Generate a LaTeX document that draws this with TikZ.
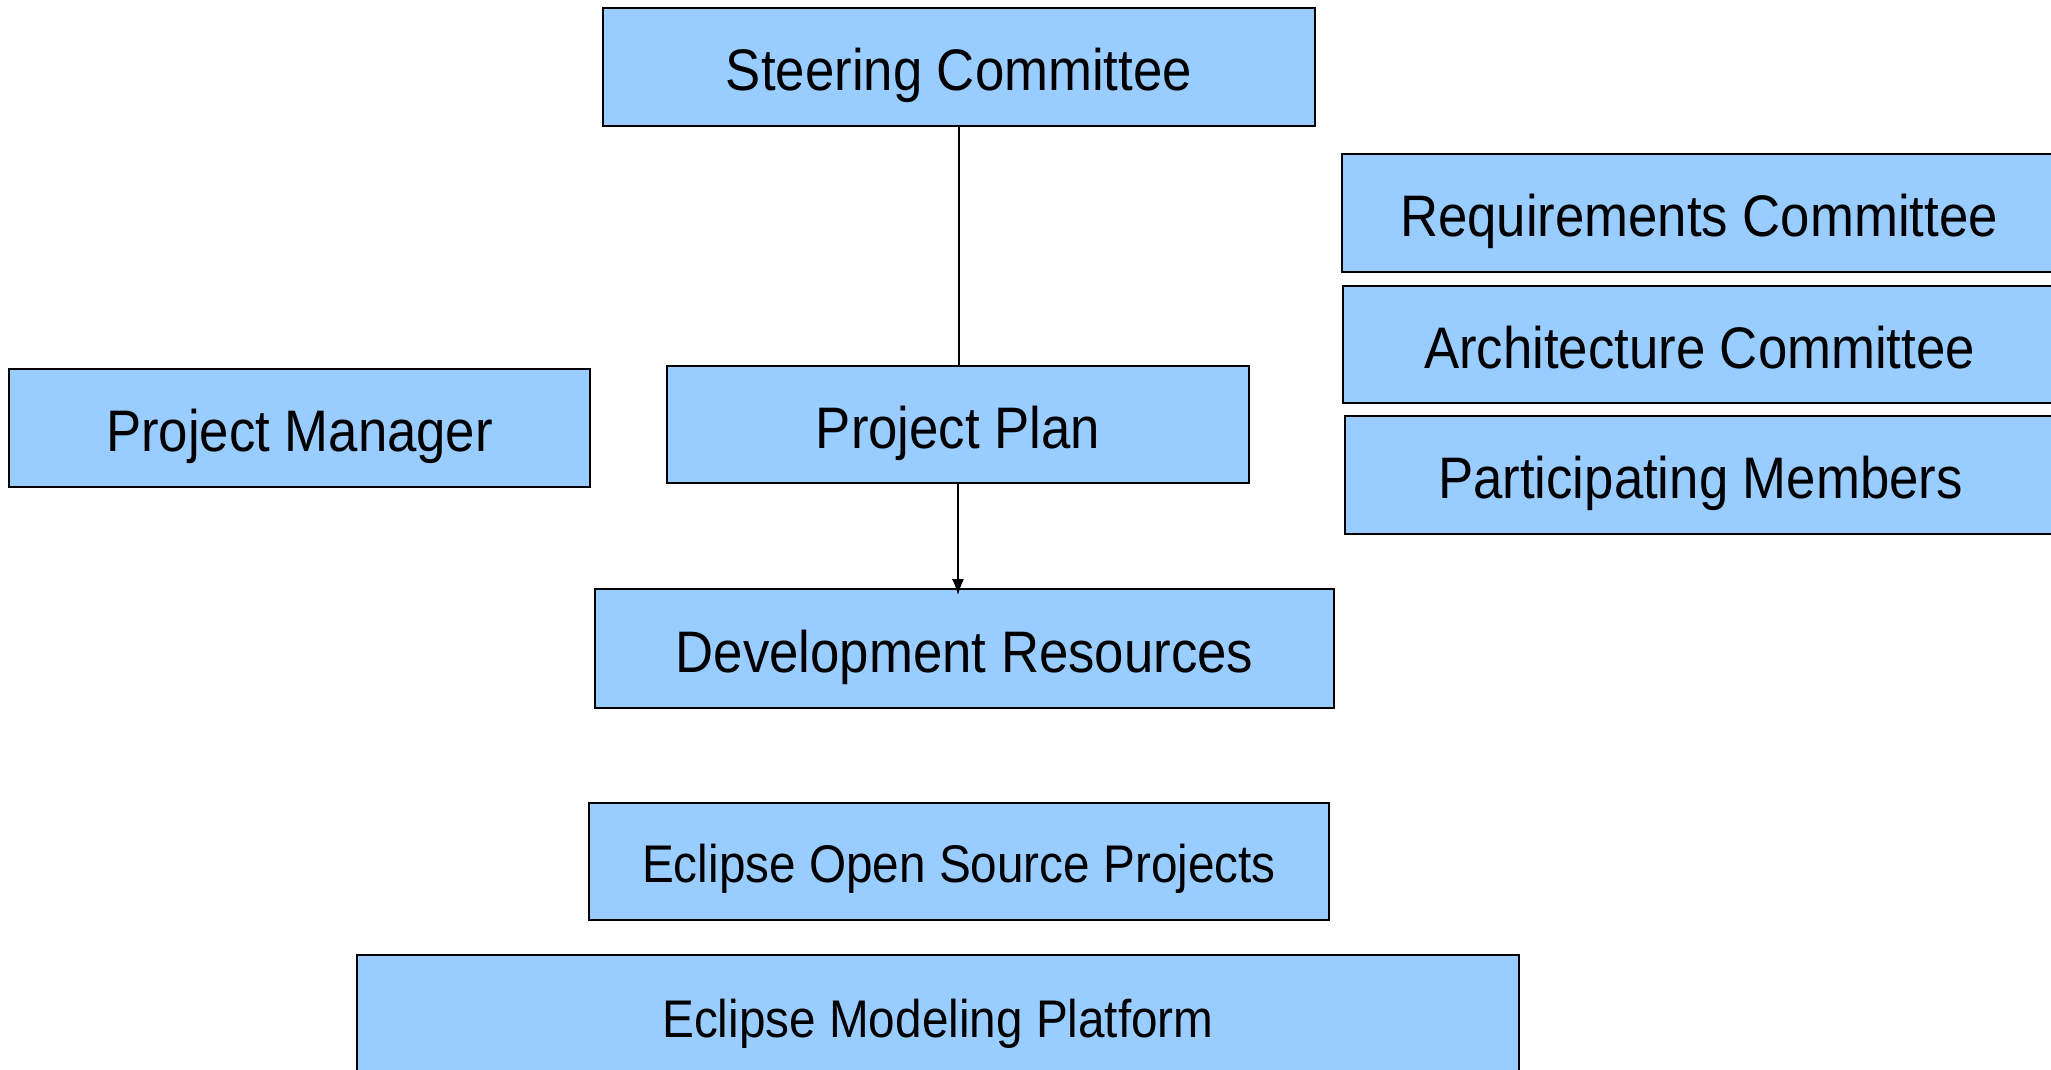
\documentclass[tikz,border=0pt]{standalone}
\usepackage{fontspec}
\setmainfont{Liberation Sans}[FakeStretch=0.9]
\usetikzlibrary{arrows.meta}
\definecolor{boxblue}{HTML}{99CCFF}
\tikzset{
  box/.style={draw=black, line width=1pt, fill=boxblue, inner sep=0pt, anchor=center},
  big/.style={font=\fontsize{29.3}{35}\selectfont, text height=23.5pt, text depth=0pt},
  small/.style={font=\fontsize{26.5}{32}\selectfont, text height=21.3pt, text depth=0pt},
  conn/.style={draw=black, line width=0.6pt},
}
\begin{document}
\begin{tikzpicture}[x=0.5pt, y=-0.5pt]
\useasboundingbox (0,0) rectangle (2051,1070);
\clip (0,0) rectangle (2051,1070);
\node[box, big, minimum width=356pt, minimum height=59pt] (steer) at (959,67) {Steering Committee};
\node[box, big, minimum width=357pt, minimum height=59pt] (req) at (1699,213) {Requirements Committee};
\node[box, big, minimum width=356.5pt, minimum height=58.5pt] (arch) at (1699.5,344.5) {Architecture Committee};
\node[box, big, minimum width=355.5pt, minimum height=59pt] (part) at (1700.5,475) {Participating Members};
\node[box, big, minimum width=290.5pt, minimum height=59pt] (pm) at (299.5,428) {Project Manager};
\node[box, big, minimum width=291pt, minimum height=58.5pt] (plan) at (958,424.5) {Project Plan};
\node[box, big, minimum width=369.5pt, minimum height=59.5pt] (dev) at (964.5,648.5) {Development Resources};
\node[box, small, minimum width=370pt, minimum height=58.5pt] (eosp) at (959,861.5) {Eclipse Open Source Projects};
\node[box, small, minimum width=581pt, minimum height=61pt] (emp) at (938,1016) {Eclipse Modeling Platform};
\draw[conn] (steer.south) -- (steer.south |- plan.north);
\draw[conn, -{Latex[length=8pt,width=6pt]}, shorten >=-3.5pt] (plan.south) -- (plan.south |- dev.north);
\end{tikzpicture}
\end{document}
